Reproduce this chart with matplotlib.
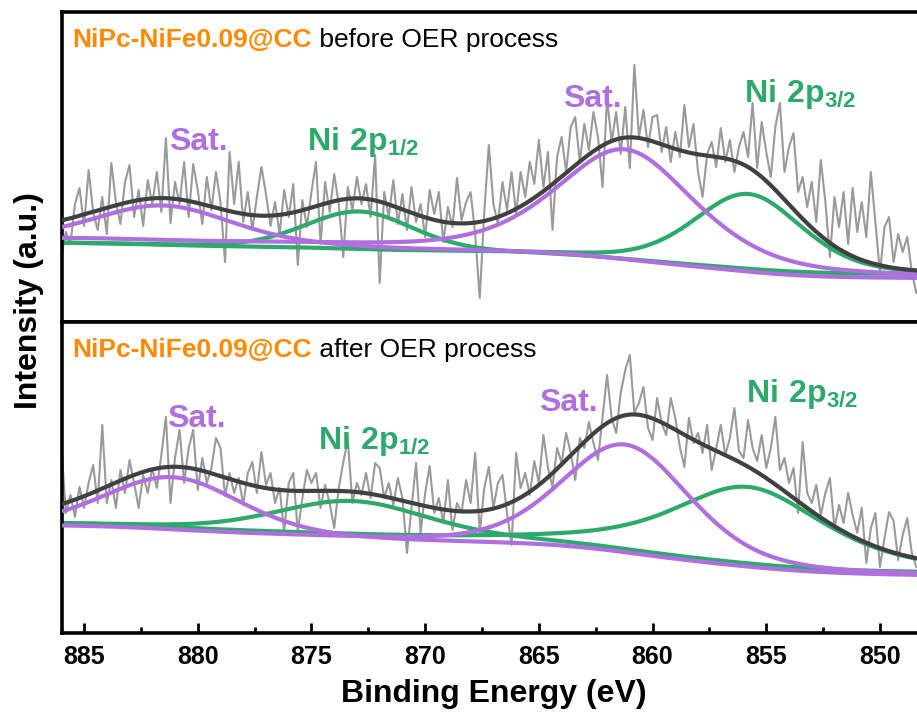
import numpy as np
import matplotlib
matplotlib.use('Agg')
import matplotlib.pyplot as plt
from matplotlib.ticker import MultipleLocator

plt.rcParams['font.family'] = ['Liberation Sans', 'DejaVu Sans']
plt.rcParams['mathtext.fontset'] = 'custom'
plt.rcParams['mathtext.rm'] = 'Liberation Sans'
plt.rcParams['mathtext.bf'] = 'Liberation Sans:bold'

# ---------------- data ----------------
E_START = 886.0   # eV, first raw point
E_STEP = 0.2      # eV, spacing of raw points (decreasing BE)

raw_before = [
    65, 90, 78, 118, 134,   96, 152, 110, 92, 125,   88, 159, 120, 98, 140,
    157, 105, 132, 96, 142,  118, 150, 110, 184, 99,  140, 118, 160, 105, 158,
    132, 98, 145, 112, 150,  120, 60, 170, 118, 160,  100, 130, 92, 125, 155,
    128, 96, 120, 88, 132,   105, 138, 57, 122, 95,   130, 160, 78, 140, 110,
    148, 118, 65, 135, 112,  145, 118, 138, 105, 167,  39, 130, 105, 142, 98,
    128, 92, 135, 100, 118,  85, 132, 108, 130, 80,   115, 95, 144, 102, 120,
    130, 88, 24, 110, 177,   118, 98, 140, 112, 150,  108, 150, 125, 160, 138,
    182, 135, 170, 92, 165,  185, 150, 195, 205, 160,  198, 172, 210, 185, 135,
    224, 180, 210, 168, 215,  154, 257, 185, 212, 175,  205, 207, 170, 195, 160,
    190, 165, 217, 175, 198,  150, 125, 168, 180, 155,  194, 160, 182, 150, 175,
    190, 165, 219, 154, 200,  170, 145, 195, 219, 150,  175, 189, 130, 145, 115,
    140, 100, 162, 120, 65,   125, 95, 130, 78, 134,   90, 120, 85, 150, 100,
    49, 95, 105, 60, 88,     70, 85, 50, 29,
]

raw_after = [
    188, 120, 138, 116, 146,  125, 150, 168, 130, 208,  130, 153, 125, 163, 140,
    173, 150, 125, 158, 140,  165, 145, 178, 216, 130,  175, 203, 150, 185, 203,
    143, 175, 150, 165, 195,  185, 137, 160, 140, 155,  128, 160, 171, 140, 181,
    148, 160, 130, 145, 101,  150, 160, 101, 135, 163,  150, 160, 125, 148, 130,
    105, 145, 171, 193, 130,  150, 138, 160, 135, 170,  165, 135, 150, 128, 155,
    135, 80, 125, 170, 100,   140, 167, 120, 135, 110,  153, 103, 130, 120, 153,
    130, 180, 100, 145, 166,  125, 150, 158, 120, 88,   180, 145, 160, 138, 172,
    150, 198, 165, 146, 185,  170, 200, 180, 153, 195,  185, 211, 190, 173, 215,
    258, 215, 200, 240, 263,  278, 220, 230, 246, 205,  193, 235, 210, 198, 235,
    215, 186, 166, 215, 190,  200, 180, 208, 163, 185,  208, 178, 195, 225, 182,
    175, 213, 185, 172, 198,  165, 185, 216, 163, 175,  150, 165, 120, 191, 140,
    130, 148, 118, 140, 155,  105, 128, 110, 140, 118,  100, 125, 70, 105, 120,
    66, 95, 121, 112, 73,    98, 115, 80, 66,
]

# fitted components: Sat.(high BE), Ni 2p1/2, Sat.(low BE), Ni 2p3/2
peak_kind = ['sat', 'ni', 'sat', 'ni']
before_center = [881.5, 872.9, 861.2, 855.8]
before_height = [36, 38, 110, 75]
before_fwhm = [7.0, 5.6, 7.2, 5.6]
before_eta = [0.2, 0.2, 0.5, 0.3]

after_center = [881.1, 873.2, 861.2, 855.8]
after_height = [53, 35, 108, 77]
after_fwhm = [7.0, 8.0, 6.6, 8.0]
after_eta = [0.2, 0.3, 0.3, 0.6]

# Shirley background end levels (high-BE end, low-BE end)
before_bg = {'sat': (83, 44), 'ni': (79, 48), 'env': (88, 44)}
after_bg = {'sat': (107, 58), 'ni': (109, 61), 'env': (112, 59)}

panel_titles = ['before OER process', 'after OER process']
sample_name = 'NiPc-NiFe0.09@CC'

# label text, x (eV, left edge), y (intensity, baseline), kind
before_labels = [('Sat.', 881.25, 172, 'sat'),
                 (r'$\mathbf{Ni\ 2p_{1/2}}$', 875.2, 172, 'ni'),
                 ('Sat.', 863.95, 215, 'sat'),
                 (r'$\mathbf{Ni\ 2p_{3/2}}$', 856.0, 220, 'ni')]
after_labels = [('Sat.', 881.35, 206, 'sat'),
                (r'$\mathbf{Ni\ 2p_{1/2}}$', 874.7, 184, 'ni'),
                ('Sat.', 865.0, 222, 'sat'),
                (r'$\mathbf{Ni\ 2p_{3/2}}$', 855.9, 231, 'ni')]

XMIN, XMAX = 848.25, 885.97
xticks = [885, 880, 875, 870, 865, 860, 855, 850]

# ---------------- style ----------------
C_SAT = '#B06FDF'
C_NI = '#2DAA6B'
C_ENV = '#404040'
C_RAW = '#9A9A9A'
C_ORANGE = '#FF8A00'


def pvoigt(x, c, h, w, eta):
    g = np.exp(-4 * np.log(2) * ((x - c) / w) ** 2)
    lo = 1.0 / (1.0 + 4 * ((x - c) / w) ** 2)
    return h * ((1 - eta) * g + eta * lo)


def draw_panel(ax, raw, centers, heights, fwhms, etas, bgs, labels):
    e_raw = E_START - E_STEP * np.arange(len(raw))
    ax.plot(e_raw, raw, color=C_RAW, lw=1.5, zorder=1)

    e_fit = np.linspace(XMIN, XMAX, 900)  # ascending BE
    comps = [pvoigt(e_fit, c, h, w, et) for c, h, w, et in zip(centers, heights, fwhms, etas)]
    total = np.sum(comps, axis=0)
    frac = np.cumsum(total) / np.sum(total)

    def shirley(key):
        hi, lo = bgs[key]
        return lo + (hi - lo) * frac

    for kind, comp in zip(peak_kind, comps):
        if kind == 'ni':
            ax.plot(e_fit, shirley('ni') + comp, color=C_NI, lw=3.0, zorder=2,
                    solid_capstyle='butt')
    for kind, comp in zip(peak_kind, comps):
        if kind == 'sat':
            ax.plot(e_fit, shirley('sat') + comp, color=C_SAT, lw=3.0, zorder=3,
                    solid_capstyle='butt')
    ax.plot(e_fit, shirley('env') + total, color=C_ENV, lw=3.0, zorder=4)

    for txt, x, y, kind in labels:
        ax.text(x, y, txt, color=C_SAT if kind == 'sat' else C_NI, fontsize=23,
                fontweight='bold', ha='left', va='baseline', zorder=5)

    t1 = ax.text(0.0117, 0.888, sample_name, transform=ax.transAxes, color=C_ORANGE,
                 fontsize=19, fontweight='bold', ha='left', va='baseline')
    return t1


fig = plt.figure(figsize=(9.17, 7.14), dpi=100)
L = 62 / 917
W = (919.75 - 62) / 917
ax_top = fig.add_axes([L, 1 - 322 / 714, W, 310 / 714])
ax_bot = fig.add_axes([L, 1 - 633 / 714, W, 311 / 714])

t_top = draw_panel(ax_top, raw_before, before_center, before_height, before_fwhm,
                   before_eta, before_bg, before_labels)
t_bot = draw_panel(ax_bot, raw_after, after_center, after_height, after_fwhm,
                   after_eta, after_bg, after_labels)

for ax, h in ((ax_top, 310), (ax_bot, 311)):
    ax.set_xlim(XMAX, XMIN)
    ax.set_ylim(0, h)
    ax.set_yticks([])
    for s in ax.spines.values():
        s.set_linewidth(2.6)

ax_top.set_xticks([])
ax_top.tick_params(bottom=False, labelbottom=False)

ax_bot.set_xticks(xticks)
ax_bot.xaxis.set_minor_locator(MultipleLocator(2.5))
ax_bot.tick_params(axis='x', which='major', direction='in', length=7, width=2,
                   labelsize=18, pad=9)
ax_bot.tick_params(axis='x', which='minor', direction='in', length=4, width=2)
for lab in ax_bot.get_xticklabels():
    lab.set_fontweight('bold')

fig.canvas.draw()
for ax, t, title in ((ax_top, t_top, panel_titles[0]), (ax_bot, t_bot, panel_titles[1])):
    bb = t.get_window_extent()
    x1 = ax.transAxes.inverted().transform((bb.x1, bb.y0))[0]
    ax.text(x1, 0.888, ' ' + title, transform=ax.transAxes, color='black',
            fontsize=19, ha='left', va='baseline')

fig.text(0.538, 1 - 702 / 714, 'Binding Energy (eV)', fontsize=23, fontweight='bold',
         ha='center', va='baseline')
fig.text(29 / 917, 1 - 301 / 714, 'Intensity (a.u.)', fontsize=23, fontweight='bold',
         ha='center', va='center', rotation=90)

fig.savefig('out.png', dpi=100)
